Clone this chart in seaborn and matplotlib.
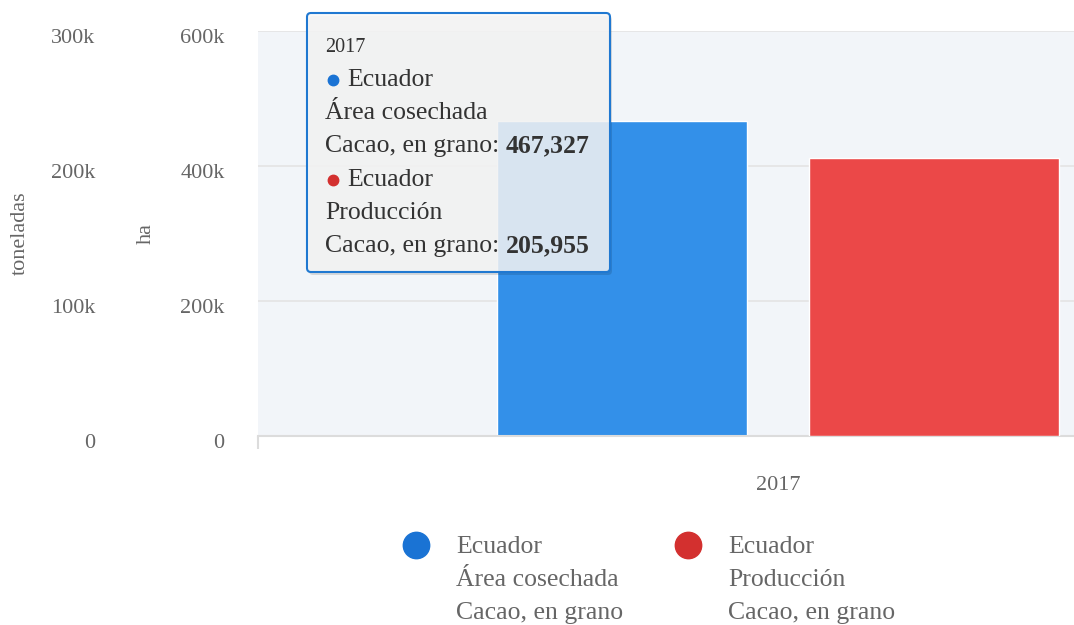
import matplotlib
matplotlib.use("Agg")
import matplotlib.pyplot as plt
import numpy as np
import pandas as pd
import seaborn as sns
from matplotlib.lines import Line2D
from matplotlib.patches import FancyBboxPatch
from matplotlib.text import Annotation
from matplotlib.ticker import FuncFormatter, FixedLocator
from matplotlib.transforms import IdentityTransform, ScaledTranslation

# data
years = ["2017"]
series = ["Área cosechada", "Producción"]
area_ha = [467327]
produccion_t = [205955]
country = "Ecuador"
crop = "Cacao, en grano"
bar_colors = ["#3390e9", "#eb4848"]
legend_colors = ["#1a73d4", "#d3302f"]

df = pd.DataFrame({
    "year": years * 2,
    "serie": series,
    "value": area_ha + produccion_t,
})

sns.set_style("white")
plt.rcParams["font.family"] = ["Liberation Serif", "DejaVu Serif"]

W, H = 1074, 625
fig = plt.figure(figsize=(W / 100, H / 100), dpi=100)
# the chart is wider than the picture: the right half of the plot is cut off
ax = fig.add_axes([258 / W, (H - 436) / H, 1040 / W, 405 / H])
ax.set_facecolor("#f2f5f9")
ax2 = ax.twinx()

pal = dict(zip(series, bar_colors))
opts = dict(x="year", y="value", hue="serie", hue_order=series, order=years,
            palette=pal, width=0.6, gap=0.2, dodge=True, saturation=1,
            edgecolor="white", linewidth=1, legend=False)
sns.barplot(data=df[df.serie == series[0]], ax=ax, **opts)
sns.barplot(data=df[df.serie == series[1]], ax=ax2, **opts)

ax.set_xlim(-0.5, 0.5)
ax.set_ylim(0, 600000)
ax2.set_ylim(0, 300000)
ax.set_yticks([0, 200000, 400000, 600000])
ax2.set_yticks([0, 100000, 200000, 300000])
kfmt = FuncFormatter(lambda v, p: "0" if v == 0 else f"{int(v / 1000)}k")
ax.yaxis.set_major_formatter(kfmt)
ax2.yaxis.set_major_formatter(kfmt)

ax.grid(axis="y", color="#e4e4e4", linewidth=1.2)
ax.set_axisbelow(True)

for s in list(ax.spines.values()) + list(ax2.spines.values()):
    s.set_visible(False)
ax.spines["bottom"].set_visible(True)
ax.spines["bottom"].set_color("#dcdcdc")
ax.spines["bottom"].set_linewidth(1.5)

tick_col = "#666666"
ax.tick_params(axis="y", length=0, pad=24, labelsize=16, labelcolor=tick_col)
ax2.yaxis.tick_left()
ax2.yaxis.set_label_position("left")
ax2.spines["left"].set_position(("outward", 93))
ax2.tick_params(axis="y", length=0, pad=24, labelsize=16, labelcolor=tick_col)

# labels sit a little below their grid lines
down = ScaledTranslation(0, -5 / 100, fig.dpi_scale_trans)
for a in (ax, ax2):
    for tk in a.yaxis.get_major_ticks():
        tk.label1.set_transform(tk.label1.get_transform() + down)

ax.tick_params(axis="x", which="major", length=0, pad=29, labelsize=16, labelcolor=tick_col)
ax.xaxis.set_minor_locator(FixedLocator([-0.5, 0.5]))
ax.tick_params(axis="x", which="minor", bottom=True, length=9.5, width=1.5, color="#dcdcdc")

ax.set_xlabel("")
ax.set_ylabel("ha", fontsize=16, color=tick_col)
ax2.set_ylabel("toneladas", fontsize=16, color=tick_col)
ax.yaxis.set_label_coords(-0.0981, 0.5)
ax2.yaxis.set_label_coords(-0.2192, 0.5)

# legend, drawn by hand so the symbol sits on the first line
leg_x = [416, 688]
for i in range(2):
    lines = [country, series[i], crop]
    fig.add_artist(Line2D([leg_x[i] / W], [(H - 545) / H], marker="o", markersize=19,
                          color=legend_colors[i], linestyle="none",
                          transform=fig.transFigure))
    for j, t in enumerate(lines):
        fig.text((leg_x[i] + 40) / W, (H - 547 - 33 * j) / H, t, fontsize=18.5,
                 color=tick_col, va="center", ha="left")

# tooltip
shadow = FancyBboxPatch((309, H - 275), 303, 259, boxstyle="round,pad=0,rounding_size=4",
                        transform=IdentityTransform(), facecolor="#000000", alpha=0.12,
                        edgecolor="none")
box = FancyBboxPatch((307, H - 272), 303, 259, boxstyle="round,pad=0,rounding_size=4",
                     transform=IdentityTransform(), facecolor=(0.97, 0.97, 0.97, 0.85),
                     edgecolor="#1f78d1", linewidth=1.5)
fig.patches.extend([shadow, box])

txt_col = "#333333"
fig.text(325 / W, (H - 48) / H, years[0], fontsize=14.5, color=txt_col, va="center")
values = [area_ha[0], produccion_t[0]]
for i in range(2):
    y0 = 80 + 100 * i
    fig.add_artist(Line2D([333 / W], [(H - y0) / H], marker="o", markersize=7.5,
                          color=legend_colors[i], linestyle="none",
                          transform=fig.transFigure))
    fig.text(347 / W, (H - y0) / H, country, fontsize=18.5, color=txt_col, va="center")
    fig.text(325 / W, (H - y0 - 33) / H, series[i], fontsize=18.5, color=txt_col, va="center")
    t = fig.text(325 / W, (H - y0 - 66) / H, crop + ": ", fontsize=18.5, color=txt_col,
                 va="center")
    fig.add_artist(Annotation(f"{values[i]:,}", xy=(1, 0), xycoords=t,
                              va="bottom", ha="left", fontsize=18.5,
                              color=txt_col, fontweight="bold"))

fig.savefig("out.png", dpi=100)
